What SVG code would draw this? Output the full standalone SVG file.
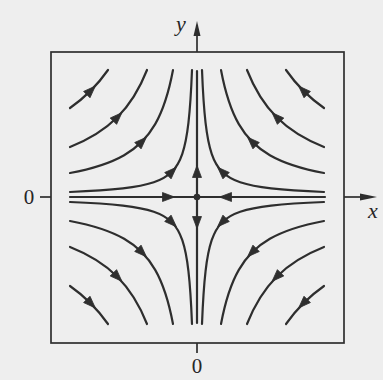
<svg xmlns="http://www.w3.org/2000/svg" width="383" height="380" viewBox="0 0 383 380">
<style>
.traj{fill:none;stroke:#2e2e2e;stroke-width:2.2;stroke-linecap:round}
.ax{fill:none;stroke:#2e2e2e;stroke-width:1.7}
.ah{fill:#2e2e2e;stroke:#2e2e2e;stroke-width:0.8;stroke-linejoin:round}
.lbl{font-family:"Liberation Serif","DejaVu Serif",serif;fill:#262626}
</style>
<defs>
<path id="ah" class="ah" d="M6.5,0 L-5.5,-4.5 L-5.5,4.5 Z"/>
<g id="quad">
<path class="traj" d="M-127,-89 C-111.95,-99.55 -99.55,-111.95 -89,-127"/>
<path class="traj" d="M-127,-50 C-107.27,-57.77 -92.07,-67.31 -79.69,-79.69 C-67.31,-92.07 -57.77,-107.27 -50,-127"/>
<path class="traj" d="M-127,-24 C-103.49,-28.44 -86.37,-34.08 -72.88,-41.82 C-59.39,-49.56 -49.56,-59.39 -41.82,-72.88 C-34.08,-86.37 -28.44,-103.49 -24,-127"/>
<path class="traj" d="M-127,-5 C-104.18,-5.9 -87.39,-7.03 -74.08,-8.57 C-60.76,-10.11 -50.97,-12.06 -43.21,-14.7 C-35.44,-17.34 -29.73,-20.67 -25.2,-25.2 C-20.67,-29.73 -17.34,-35.44 -14.7,-43.21 C-12.06,-50.97 -10.11,-60.76 -8.57,-74.08 C-7.03,-87.39 -5.9,-104.18 -5,-127"/>
<use href="#ah" transform="translate(-106.3,-106.3) rotate(-45)"/>
<use href="#ah" transform="translate(-79.7,-79.7) rotate(-45)"/>
<use href="#ah" transform="translate(-55.2,-55.2) rotate(-45)"/>
<use href="#ah" transform="translate(-25.2,-25.2) rotate(-45)"/>
</g>
</defs>
<rect width="383" height="380" fill="#eeeeee"/>
<g id="frame">
<rect class="ax" x="51" y="52" width="293" height="291"/>
<line class="ax" x1="197" y1="52" x2="197" y2="34"/>
<path fill="#2e2e2e" d="M197,21 L193.5,36 L200.5,36 Z"/>
<line class="ax" x1="344" y1="197" x2="362" y2="197"/>
<path fill="#2e2e2e" d="M377,197 L360,193.5 L360,200.5 Z"/>
<line class="ax" x1="40" y1="197" x2="51" y2="197"/>
<line class="ax" x1="197" y1="343" x2="197" y2="353"/>
</g>
<g id="labels">
<text class="lbl" x="181" y="31" font-size="22" font-style="italic" text-anchor="middle">y</text>
<text class="lbl" x="373" y="218" font-size="22" font-style="italic" text-anchor="middle">x</text>
<text class="lbl" x="29" y="203.5" font-size="21" text-anchor="middle">0</text>
<text class="lbl" x="197" y="373" font-size="21" text-anchor="middle">0</text>
</g>
<g id="connectors" transform="translate(197,197)">
<use href="#quad"/>
<use href="#quad" transform="scale(-1,1)"/>
<use href="#quad" transform="scale(1,-1)"/>
<use href="#quad" transform="scale(-1,-1)"/>
<line class="traj" x1="-127" y1="0" x2="128" y2="0"/>
<line class="traj" x1="0" y1="-126" x2="0" y2="126"/>
<use href="#ah" transform="translate(-29,0)"/>
<use href="#ah" transform="translate(29,0) rotate(180)"/>
<use href="#ah" transform="translate(0,-25) rotate(-90)"/>
<use href="#ah" transform="translate(0,25) rotate(90)"/>
<circle cx="0" cy="0" r="3.3" fill="#2e2e2e"/>
</g>
</svg>
